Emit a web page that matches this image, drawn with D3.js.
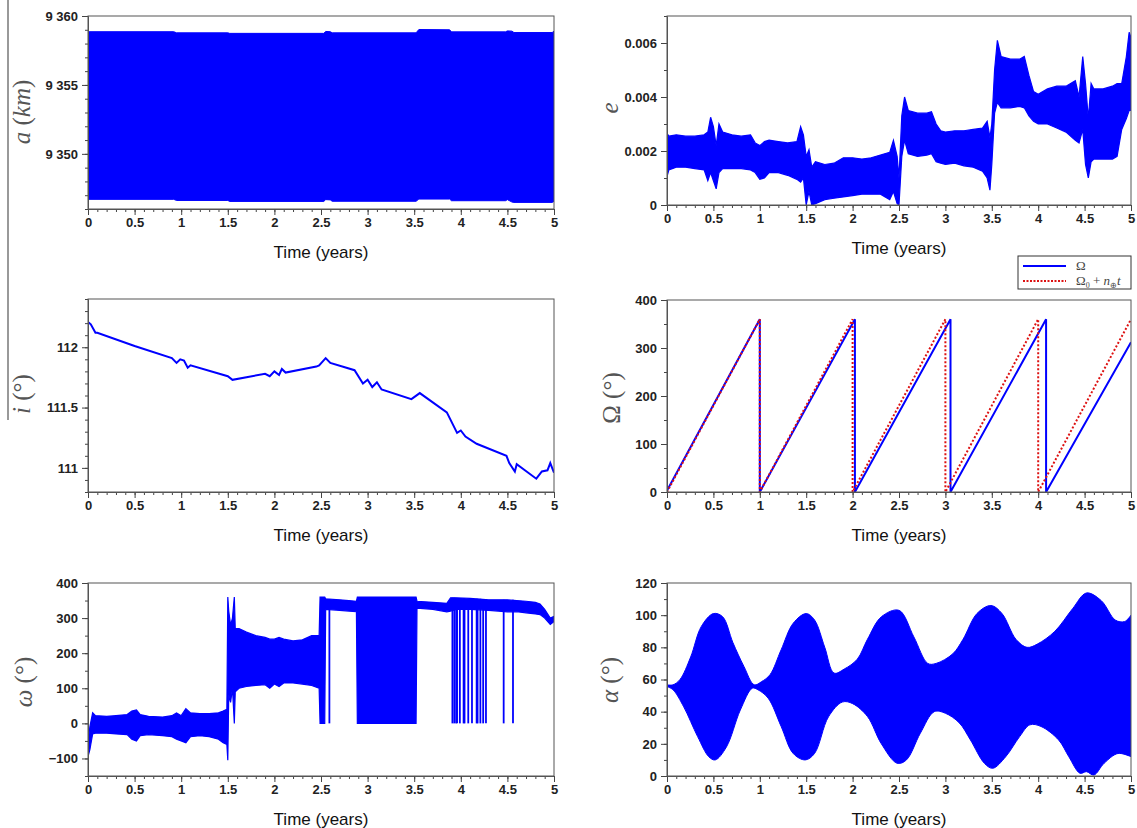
<!DOCTYPE html>
<html>
<head>
<meta charset="utf-8">
<script src="https://cdn.jsdelivr.net/npm/d3@7"></script>
<style>
  body { margin: 0; background: #fff; }
  .tick text { font-family: "Liberation Sans", Arial, sans-serif; font-weight: bold; font-size: 13px; fill: #222; }
</style>
</head>
<body>
<script>
// Time axis (years) shared by all six panels
var timeTicks = [0, 0.5, 1, 1.5, 2, 2.5, 3, 3.5, 4, 4.5, 5];

// a (km): envelope of the fast oscillation
var aTime = [0, 0.92, 0.95, 1.5, 1.52, 2.53, 2.55, 2.6, 2.62, 3.52, 3.55, 3.88, 3.9, 4.48, 4.5, 4.55, 4.57, 4.98, 5];
var aUp = [9358.86, 9358.86, 9358.78, 9358.78, 9358.74, 9358.74, 9358.88, 9358.86, 9358.78, 9358.78, 9359.02, 9359.0, 9358.85, 9358.85, 9358.92, 9358.9, 9358.8, 9358.8, 9358.9];
var aLo = [9346.7, 9346.7, 9346.62, 9346.62, 9346.55, 9346.55, 9346.68, 9346.66, 9346.56, 9346.56, 9346.72, 9346.72, 9346.6, 9346.6, 9346.68, 9346.5, 9346.48, 9346.48, 9346.55];

// e: envelope
var eTime = [0, 0.02, 0.1, 0.2, 0.3, 0.4, 0.44, 0.47, 0.5, 0.53, 0.56, 0.6, 0.7, 0.8, 0.9, 0.95, 1, 1.05, 1.1, 1.2, 1.3, 1.4, 1.44, 1.47, 1.5, 1.53, 1.56, 1.6, 1.7, 1.8, 1.9, 2, 2.1, 2.2, 2.3, 2.4, 2.44, 2.48, 2.5, 2.53, 2.56, 2.6, 2.7, 2.8, 2.85, 2.9, 2.95, 3, 3.1, 3.2, 3.3, 3.4, 3.45, 3.48, 3.5, 3.53, 3.56, 3.6, 3.7, 3.8, 3.85, 3.9, 3.95, 4, 4.1, 4.2, 4.3, 4.4, 4.44, 4.48, 4.51, 4.54, 4.57, 4.6, 4.7, 4.8, 4.85, 4.9, 4.95, 4.98, 5];
var eUp = [0.00265, 0.00255, 0.0026, 0.00255, 0.00255, 0.0026, 0.0027, 0.00325, 0.0029, 0.0022, 0.003, 0.0027, 0.0026, 0.00255, 0.0026, 0.0023, 0.0022, 0.00235, 0.0024, 0.00235, 0.0023, 0.00235, 0.0029, 0.0026, 0.0018, 0.00205, 0.0014, 0.0016, 0.0015, 0.00155, 0.00175, 0.00175, 0.0017, 0.00175, 0.00185, 0.00195, 0.0024, 0.0018, 0.001, 0.0033, 0.004, 0.0035, 0.0034, 0.0034, 0.00345, 0.003, 0.00275, 0.0027, 0.00275, 0.00275, 0.0028, 0.00285, 0.0031, 0.0025, 0.003, 0.005, 0.0061, 0.0055, 0.0054, 0.0054, 0.0055, 0.0048, 0.0042, 0.0041, 0.0043, 0.0044, 0.0044, 0.0046, 0.004, 0.0055, 0.0045, 0.0032, 0.0045, 0.0043, 0.0043, 0.0044, 0.0045, 0.0045, 0.0055, 0.0064, 0.0062];
var eLo = [0.00105, 0.0013, 0.0014, 0.0014, 0.00135, 0.0013, 0.0009, 0.0012, 0.0009, 0.0006, 0.0012, 0.00135, 0.00135, 0.00135, 0.0013, 0.0012, 0.00095, 0.001, 0.0012, 0.0012, 0.0011, 0.00095, 0.00085, 0.001, 0, 0.0005, 0, 0.00005, 0.0002, 0.00025, 0.0003, 0.00035, 0.0004, 0.0004, 0.0004, 0.0002, 0.0005, 0.00005, 0, 0.0018, 0.0024, 0.0019, 0.0018, 0.00185, 0.0019, 0.0016, 0.00155, 0.0015, 0.00155, 0.00145, 0.0014, 0.00125, 0.001, 0.00055, 0.0015, 0.0034, 0.0038, 0.0036, 0.0036, 0.00365, 0.0036, 0.0033, 0.0031, 0.003, 0.003, 0.00285, 0.0027, 0.0024, 0.0023, 0.0028, 0.0015, 0.001, 0.0016, 0.0017, 0.0017, 0.0017, 0.0018, 0.0028, 0.0032, 0.0035, 0.0035];

// i (deg)
var iTime = [0, 0.03, 0.08, 0.1, 0.5, 0.9, 0.95, 0.99, 1.03, 1.07, 1.1, 1.5, 1.55, 1.9, 1.95, 2, 2.05, 2.08, 2.12, 2.45, 2.48, 2.55, 2.6, 2.86, 2.95, 3, 3.05, 3.1, 3.15, 3.47, 3.56, 3.85, 3.96, 4, 4.05, 4.17, 4.49, 4.52, 4.58, 4.6, 4.81, 4.87, 4.93, 4.96, 5];
var iVal = [112.21, 112.19, 112.12, 112.12, 112.01, 111.91, 111.87, 111.9, 111.89, 111.83, 111.85, 111.76, 111.73, 111.78, 111.76, 111.8, 111.77, 111.82, 111.79, 111.84, 111.85, 111.91, 111.87, 111.81, 111.7, 111.73, 111.67, 111.71, 111.65, 111.57, 111.62, 111.46, 111.29, 111.31, 111.26, 111.2, 111.1, 111.04, 110.97, 111.03, 110.91, 110.97, 110.98, 111.04, 110.96];

// Omega (deg) and the reference Omega0 + n t
var nodeTime = [0, 1, 1, 2.025, 2.025, 3.055, 3.055, 4.085, 4.085, 5];
var nodeVal = [3, 360, 0, 360, 0, 360, 0, 360, 0, 312];
var refTime = [0, 1, 1, 2, 2, 3, 3, 4, 4, 5];
var refVal = [0, 360, 0, 360, 0, 360, 0, 360, 0, 360];

// omega (deg): envelope plus vertical drops to 0
var wTime = [0, 0.02, 0.05, 0.08, 0.2, 0.3, 0.42, 0.47, 0.52, 0.56, 0.65, 0.8, 0.9, 0.95, 1, 1.05, 1.1, 1.2, 1.3, 1.4, 1.45, 1.49, 1.5, 1.51, 1.53, 1.55, 1.57, 1.58, 1.62, 1.7, 1.8, 1.9, 1.95, 2, 2.05, 2.1, 2.2, 2.3, 2.4, 2.48, 2.49, 2.54, 2.55, 2.7, 2.8, 2.88, 2.89, 3.52, 3.53, 3.7, 3.85, 3.89, 3.95, 4.1, 4.3, 4.5, 4.6, 4.7, 4.8, 4.85, 4.9, 4.96, 5];
var wUp = [-55, -10, 30, 22, 20, 22, 25, 35, 38, 25, 20, 18, 22, 30, 22, 42, 30, 28, 28, 30, 35, 40, 360, 320, 280, 300, 360, 270, 270, 260, 250, 245, 240, 240, 245, 240, 235, 238, 250, 250, 360, 360, 355, 352, 350, 348, 360, 360, 348, 345, 342, 358, 358, 356, 352, 352, 350, 348, 345, 340, 325, 300, 305];
var wLo = [-95, -75, -30, -28, -28, -30, -32, -45, -50, -35, -32, -35, -38, -45, -50, -55, -38, -35, -38, -45, -55, -60, -105, 80, 60, 100, 0, 90, 100, 105, 108, 110, 100, 112, 105, 115, 115, 112, 108, 100, 0, 0, 325, 322, 320, 318, 0, 0, 328, 325, 318, 320, 325, 325, 322, 318, 318, 315, 312, 310, 300, 282, 290];
var wDropTime = [2.59, 3.91, 3.93, 3.95, 3.96, 3.99, 4.03, 4.04, 4.08, 4.12, 4.17, 4.18, 4.21, 4.24, 4.27, 4.46, 4.56];
var wDropTop = [350, 358, 358, 356, 356, 356, 356, 356, 355, 355, 355, 355, 355, 354, 354, 352, 352];

// alpha (deg): upper and lower envelopes
var alUpTime = [0, 0.065, 0.14, 0.255, 0.37, 0.5, 0.6, 0.71, 0.83, 0.94, 1.02, 1.11, 1.23, 1.36, 1.5, 1.59, 1.7, 1.8, 1.91, 2.05, 2.16, 2.31, 2.5, 2.66, 2.81, 2.9, 3.08, 3.19, 3.34, 3.49, 3.61, 3.76, 3.88, 3.99, 4.18, 4.37, 4.52, 4.68, 4.83, 4.93, 5];
var alUp = [56.7, 56.7, 60, 74, 93, 101, 99, 83, 68, 56.7, 58.7, 63, 78.5, 95, 101, 97, 80, 64, 66.5, 72.6, 85, 99, 103, 86.5, 70, 70, 76, 85, 101, 106, 101, 85, 80, 82, 90, 104, 113.8, 109, 97, 96, 100];
var alLoTime = [0, 0.065, 0.18, 0.33, 0.45, 0.52, 0.64, 0.79, 0.92, 0.98, 1.09, 1.23, 1.36, 1.49, 1.59, 1.74, 1.89, 2, 2.16, 2.31, 2.48, 2.58, 2.73, 2.88, 3, 3.15, 3.27, 3.42, 3.51, 3.65, 3.8, 3.91, 4.03, 4.22, 4.33, 4.45, 4.52, 4.6, 4.71, 4.86, 5];
var alLo = [55.6, 53.6, 43, 24.5, 12, 10, 18, 41, 54.6, 53.6, 48.4, 30.8, 14, 10, 14, 36.8, 46, 45, 37, 20, 7.9, 10, 26.6, 40, 39, 33, 22.4, 7.9, 4.8, 12, 24.5, 31.8, 30.8, 22.4, 12, 1.7, 2.7, 0.6, 7.9, 14, 12];

var w = 1137;
var h = 828;
var blue = "#0000ff";

var svg = d3.select("body").append("svg").attr("width", w).attr("height", h);

// stray frame line on the left edge of the original figure
svg.append("line").attr("x1", 8).attr("x2", 8).attr("y1", 0).attr("y2", 420)
  .attr("stroke", "#777").attr("stroke-width", 1.5);

var panelCount = 0;

function makePanel(p) {
  panelCount++;
  var x = d3.scaleLinear().domain([0, 5]).range([p.left, p.right]);
  var y = d3.scaleLinear().domain(p.yDomain).range([p.bottom, p.top]);
  var g = svg.append("g");

  var clipId = "clip" + panelCount;
  svg.append("clipPath").attr("id", clipId).append("rect")
    .attr("x", p.left).attr("y", p.top).attr("width", p.right - p.left).attr("height", p.bottom - p.top);
  var marks = g.append("g").attr("clip-path", "url(#" + clipId + ")");

  // minor ticks
  g.append("g").attr("transform", "translate(0," + p.bottom + ")")
    .call(d3.axisBottom(x).tickValues(d3.range(0, 51).map(function(k){ return k / 10; }))
      .tickSize(3).tickSizeOuter(0).tickFormat(""));
  g.append("g").attr("transform", "translate(" + p.left + ",0)")
    .call(d3.axisLeft(y).tickValues(p.yMinor).tickSize(3).tickSizeOuter(0).tickFormat(""));

  // major ticks
  g.append("g").attr("transform", "translate(0," + p.bottom + ")")
    .call(d3.axisBottom(x).tickValues(timeTicks).tickSize(6).tickSizeOuter(0).tickPadding(3).tickFormat(d3.format("")));
  g.append("g").attr("transform", "translate(" + p.left + ",0)")
    .call(d3.axisLeft(y).tickValues(p.yMajor).tickSize(6).tickSizeOuter(0).tickPadding(4).tickFormat(p.yFormat));

  g.selectAll(".domain").attr("stroke", "#555");
  g.selectAll(".tick line").attr("stroke", "#444");

  // frame
  g.append("rect").attr("x", p.left).attr("y", p.top)
    .attr("width", p.right - p.left).attr("height", p.bottom - p.top)
    .attr("fill", "none").attr("stroke", "#555").attr("stroke-width", 1);

  g.append("text").attr("x", (p.left + p.right) / 2).attr("y", p.bottom + 49)
    .attr("text-anchor", "middle")
    .style("font-family", "Liberation Sans, Arial, sans-serif").style("font-size", "17px").style("fill", "#111")
    .text("Time (years)");

  var lab = g.append("text")
    .attr("transform", "translate(" + p.labelX + "," + p.labelY + ") rotate(-90)")
    .attr("text-anchor", "middle")
    .style("font-family", "Liberation Serif, Times New Roman, serif").style("font-size", "25px").style("fill", "#555");
  p.label.forEach(function(part) {
    lab.append("tspan").text(part[0]).style("font-style", part[1] ? "italic" : "normal");
  });

  p.draw(marks, x, y);
}

function bandArea(x, y) {
  return d3.area().x(function(d){ return x(d[0]); }).y0(function(d){ return y(d[2]); }).y1(function(d){ return y(d[1]); });
}

function pathLine(x, y) {
  return d3.line().x(function(d){ return x(d[0]); }).y(function(d){ return y(d[1]); });
}

function range(a, b, s) {
  var out = [];
  for (var v = a; v <= b + 1e-9; v += s) out.push(+v.toFixed(6));
  return out;
}

var rightEdge = 1131;

// a
makePanel({
  left: 88, right: 554, top: 16, bottom: 209,
  yDomain: [9346, 9360], yMajor: [9350, 9355, 9360], yMinor: range(9346, 9360, 1),
  yFormat: function(d){ return "9 " + String(d).slice(1); },
  labelX: 30, labelY: 112, label: [["a", true], [" (", false], ["km", true], [")", false]],
  draw: function(m, x, y) {
    m.append("path").datum(aTime.map(function(t, k){ return [t, aUp[k], aLo[k]]; }))
      .attr("d", bandArea(x, y)).attr("fill", blue).attr("stroke", blue).attr("stroke-width", 1);
  }
});

// e
makePanel({
  left: 667, right: rightEdge, top: 16, bottom: 205,
  yDomain: [0, 0.007], yMajor: [0, 0.002, 0.004, 0.006], yMinor: range(0, 0.007, 0.001),
  yFormat: function(d){ return d === 0 ? "0" : d.toFixed(3); },
  labelX: 618, labelY: 108, label: [["e", true]],
  draw: function(m, x, y) {
    m.append("path").datum(eTime.map(function(t, k){ return [t, eUp[k], eLo[k]]; }))
      .attr("d", bandArea(x, y)).attr("fill", blue).attr("stroke", blue).attr("stroke-width", 1.2);
  }
});

// i
makePanel({
  left: 88, right: 554, top: 299, bottom: 492,
  yDomain: [110.8, 112.4], yMajor: [111, 111.5, 112], yMinor: range(110.8, 112.4, 0.1),
  yFormat: d3.format(""),
  labelX: 30, labelY: 394, label: [["i", true], [" (°)", false]],
  draw: function(m, x, y) {
    m.append("path").datum(iTime.map(function(t, k){ return [t, iVal[k]]; }))
      .attr("d", pathLine(x, y)).attr("fill", "none").attr("stroke", blue).attr("stroke-width", 2);
  }
});

// Omega
makePanel({
  left: 667, right: rightEdge, top: 300, bottom: 492,
  yDomain: [0, 400], yMajor: [0, 100, 200, 300, 400], yMinor: range(0, 400, 50),
  yFormat: d3.format(""),
  labelX: 620, labelY: 398, label: [["Ω (°)", false]],
  draw: function(m, x, y) {
    m.append("path").datum(nodeTime.map(function(t, k){ return [t, nodeVal[k]]; }))
      .attr("d", pathLine(x, y)).attr("fill", "none").attr("stroke", blue).attr("stroke-width", 2);
    m.append("path").datum(refTime.map(function(t, k){ return [t, refVal[k]]; }))
      .attr("d", pathLine(x, y)).attr("fill", "none").attr("stroke", "#dd1111")
      .attr("stroke-width", 2).attr("stroke-dasharray", "2,2");
  }
});

// omega
makePanel({
  left: 88, right: 554, top: 583, bottom: 776,
  yDomain: [-150, 400], yMajor: [-100, 0, 100, 200, 300, 400], yMinor: range(-150, 400, 50),
  yFormat: d3.format(""),
  labelX: 32, labelY: 682, label: [["ω", true], [" (°)", false]],
  draw: function(m, x, y) {
    m.append("path").datum(wTime.map(function(t, k){ return [t, wUp[k], wLo[k]]; }))
      .attr("d", bandArea(x, y)).attr("fill", blue).attr("stroke", blue).attr("stroke-width", 1.2);
    m.selectAll("line.drop").data(wDropTime).enter().append("line").attr("class", "drop")
      .attr("x1", function(d){ return x(d); }).attr("x2", function(d){ return x(d); })
      .attr("y1", y(0)).attr("y2", function(d, k){ return y(wDropTop[k]); })
      .attr("stroke", blue).attr("stroke-width", 1.8);
  }
});

// alpha
makePanel({
  left: 667, right: rightEdge, top: 583, bottom: 776,
  yDomain: [0, 120], yMajor: [0, 20, 40, 60, 80, 100, 120], yMinor: range(0, 120, 10),
  yFormat: d3.format(""),
  labelX: 618, labelY: 680, label: [["α", true], [" (°)", false]],
  draw: function(m, x, y) {
    var smooth = pathLine(x, y).curve(d3.curveCatmullRom.alpha(0.5));
    var up = smooth(alUpTime.map(function(t, k){ return [t, alUp[k]]; }));
    var lo = smooth(alLoTime.map(function(t, k){ return [t, alLo[k]]; }).reverse());
    m.append("path").attr("d", up + "L" + lo.slice(1) + "Z")
      .attr("fill", blue).attr("stroke", blue).attr("stroke-width", 1);
  }
});

// legend of the Omega panel
var leg = svg.append("g");
leg.append("rect").attr("x", rightEdge - 113).attr("y", 256).attr("width", 113).attr("height", 33)
  .attr("fill", "#fff").attr("stroke", "#333").attr("stroke-width", 1);
leg.append("line").attr("x1", rightEdge - 108).attr("x2", rightEdge - 65).attr("y1", 266).attr("y2", 266)
  .attr("stroke", blue).attr("stroke-width", 2);
leg.append("line").attr("x1", rightEdge - 108).attr("x2", rightEdge - 65).attr("y1", 281).attr("y2", 281)
  .attr("stroke", "#dd1111").attr("stroke-width", 2).attr("stroke-dasharray", "2,1.5");
var lt = leg.append("g").style("font-family", "Liberation Serif, Times New Roman, serif").style("fill", "#444");
lt.append("text").attr("x", rightEdge - 55).attr("y", 270).style("font-size", "13px").text("Ω");
var t2 = lt.append("text").attr("x", rightEdge - 55).attr("y", 285).style("font-size", "13px");
t2.append("tspan").text("Ω");
t2.append("tspan").attr("dy", 3).style("font-size", "8px").text("0");
t2.append("tspan").attr("dy", -3).text(" + ");
t2.append("tspan").style("font-style", "italic").text("n");
t2.append("tspan").attr("dy", 3).style("font-size", "8px").text("⊕");
t2.append("tspan").attr("dy", -3).style("font-style", "italic").text("t");
</script>
</body>
</html>
